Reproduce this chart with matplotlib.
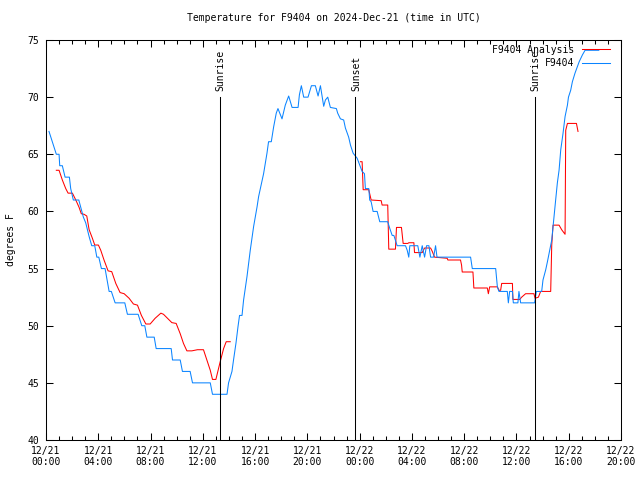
import matplotlib
matplotlib.use("Agg")
import matplotlib.pyplot as plt
import numpy as np

# hours since 2024-12-21 00:00 UTC, temperature in degrees F
obs_hours = [0.23, 0.79, 1.0, 1.05, 1.25, 1.46, 1.79, 1.89, 2.09, 2.51, 2.70, 2.86, 3.04, 3.30,
             3.50, 3.73, 3.89, 4.04, 4.24, 4.52, 4.83, 5.00, 5.29, 6.03, 6.23, 7.05, 7.33, 7.56,
             7.72, 8.28, 8.43, 9.58, 9.68, 10.27, 10.44, 11.03, 11.21, 12.57, 12.74, 13.85, 13.97,
             14.23, 14.35, 14.54, 14.69, 14.81, 15.0, 15.12, 15.38, 15.63, 15.89, 16.15, 16.27,
             16.40, 16.65, 16.91, 17.03, 17.24, 17.42, 17.62, 17.75, 18.06, 18.31, 18.57, 18.83,
             19.29, 19.39, 19.54, 19.72, 20.05, 20.31, 20.61, 20.82, 21.0, 21.25, 21.38, 21.56,
             21.76, 22.22, 22.32, 22.53, 22.78, 22.91, 23.16, 23.30, 23.50, 23.81, 24.06, 24.19,
             24.37, 24.44, 24.70, 24.77, 24.88, 25.03, 25.34, 25.54, 26.15, 26.31, 26.49, 26.62,
             26.87, 27.51, 27.64, 27.76, 27.84, 28.45, 28.61, 28.79, 28.97, 29.12, 29.30, 29.43,
             29.66, 29.81, 29.92, 32.49, 32.62, 34.41, 34.54, 34.66, 35.30, 35.38, 35.48, 35.69,
             35.76, 36.11, 36.19, 36.32, 37.39, 37.52, 37.93, 38.03, 38.24, 38.37, 38.54, 38.70,
             38.80, 39.0, 39.13, 39.26, 39.39, 39.56, 39.72, 39.90, 39.98, 40.15, 40.28, 40.48,
             40.67, 40.80, 41.05, 41.25, 42.30]
obs_temp = [67, 65, 65, 64, 64, 63, 63, 62, 61, 61, 60.2, 59.5, 59, 57.8,
            57, 57, 56, 56, 55, 55, 53, 53, 52, 52, 51, 51, 50, 50,
            49, 49, 48, 48, 47, 47, 46, 46, 45, 45, 44, 44, 45,
            46, 47, 48.5, 49.9, 50.9, 50.9, 52.25, 54.3, 56.6, 58.7, 60.4, 61.3,
            62.0, 63.3, 65.1, 66.1, 66.1, 67.4, 68.6, 69.0, 68.1, 69.3, 70.1, 69.1,
            69.1, 70.2, 71, 70, 70, 71, 71, 70.1, 71, 69.2, 69.75, 70.0,
            69.1, 69, 68.6, 68.1, 68, 67.3, 66.5, 65.8, 65.1, 64.65, 63.9, 63.5,
            63.3, 62, 62, 61, 60.85, 60, 60, 59.1, 59.1, 58.5, 57.9, 57.9,
            57, 57, 56.6, 56, 57, 57, 56, 57, 56, 57, 57, 56,
            56, 57, 56, 56, 55, 55, 53.4, 53, 53, 52, 53, 53,
            52, 52, 53, 52, 52, 53, 53, 54, 54.9, 55.6, 56.6, 57.5,
            58.7, 61, 62.5, 63.6, 65.4, 66.8, 68.3, 69.3, 70, 70.6, 71.35, 72.1,
            72.7, 73.1, 73.7, 74.1, 74.1]

ana_hours = [0.79, 1.0, 1.25, 1.51, 1.69, 2.02, 2.28, 2.53, 2.70, 2.91, 3.12, 3.30, 3.55, 3.73,
             4.01, 4.19, 4.44, 4.75, 5.03, 5.34, 5.67, 5.98, 6.36, 6.69, 7.0, 7.30, 7.64, 7.97,
             8.35, 8.79, 8.99, 9.63, 9.96, 10.27, 10.52, 10.78, 11.16, 11.59, 12.05, 12.31, 12.57,
             12.74, 13.0, 13.33, 13.59, 13.79, 14.10, 19.0,
             24.06, 24.19, 24.27, 24.70, 24.88, 25.65, 25.72, 26.15, 26.23, 26.74, 26.82, 27.20,
             27.33, 27.69, 27.76, 28.15, 28.20, 28.79, 28.97, 29.43, 29.56, 29.73, 30.70, 30.75,
             31.72, 31.80, 31.85, 32.67, 32.74, 33.77, 33.85, 33.95, 34.54, 34.66, 34.79, 34.87,
             35.69, 35.73, 36.25, 36.40, 36.70, 37.34, 37.42, 37.68, 37.85, 38.62, 38.70, 38.80,
             39.26, 39.46, 39.72, 39.77, 39.90, 40.59, 40.71]
ana_temp = [63.6, 63.6, 62.75, 62.0, 61.6, 61.6, 61.0, 60.36, 59.8, 59.75, 59.6, 58.4, 57.65, 57.06,
            57.06, 56.6, 55.75, 54.8, 54.73, 53.7, 52.9, 52.8, 52.4, 51.9, 51.8, 50.9, 50.15, 50.15,
            50.65, 51.1, 51.0, 50.27, 50.2, 49.3, 48.45, 47.8, 47.8, 47.9, 47.9, 47.0, 46.1,
            45.3, 45.3, 46.85, 48.0, 48.6, 48.6, np.nan,
            64.35, 64.35, 61.9, 61.9, 61.0, 60.94, 60.56, 60.56, 56.7, 56.7, 58.6, 58.6,
            57.2, 57.2, 57.26, 57.26, 56.4, 56.4, 56.8, 56.8, 56.5, 56.0, 55.9, 55.75,
            55.75, 55.3, 54.7, 54.7, 53.3, 53.3, 52.8, 53.4, 53.4, 53.1, 53.1, 53.7,
            53.7, 52.3, 52.3, 52.5, 52.8, 52.8, 52.4, 52.5, 53.0, 53.0, 57.06, 58.8,
            58.8, 58.4, 58.0, 67.1, 67.7, 67.7, 67.0]

sun_events = [13.33, 23.68, 37.39]
sun_labels = ["Sunrise", "Sunset", "Sunrise"]

tick_hours = [0, 4, 8, 12, 16, 20, 24, 28, 32, 36, 40, 44]
tick_labels = ["12/21\n00:00", "12/21\n04:00", "12/21\n08:00", "12/21\n12:00",
               "12/21\n16:00", "12/21\n20:00", "12/22\n00:00", "12/22\n04:00",
               "12/22\n08:00", "12/22\n12:00", "12/22\n16:00", "12/22\n20:00"]

plt.rcParams['font.family'] = ['DejaVu Sans Mono']
plt.rcParams['font.size'] = 7

fig = plt.figure(figsize=(6.4, 4.8), dpi=100)
ax = fig.add_axes([46 / 640, 40 / 480, 575 / 640, 400 / 480])

ax.plot(ana_hours, ana_temp, color='#ff0000', lw=0.75, label='F9404 Analysis')
ax.plot(obs_hours, obs_temp, color='#0a84ff', lw=0.75, label='F9404')

for h, lab in zip(sun_events, sun_labels):
    ax.plot([h, h], [40, 70], color='black', lw=0.75)
    ax.text(h + 0.05, 70.5, lab, rotation=90, ha='center', va='bottom')

ax.set_xlim(0, 44)
ax.set_ylim(40, 75)
ax.set_xticks(tick_hours)
ax.set_xticklabels(tick_labels)
ax.set_xticks(np.arange(0, 44, 1), minor=True)
ax.set_yticks(range(40, 80, 5))
ax.tick_params(which='both', direction='in', top=True, right=True, width=0.75, colors='black')
ax.tick_params(which='major', length=5, pad=4)
ax.tick_params(which='minor', length=3)
ax.tick_params(axis='y', pad=5)
for s in ax.spines.values():
    s.set_linewidth(0.75)

ax.set_ylabel('degrees F', labelpad=8)
ax.set_title('Temperature for F9404 on 2024-Dec-21 (time in UTC)', fontsize=7, pad=14)

leg = ax.legend(loc='upper right', bbox_to_anchor=(0.981, 0.988), frameon=False,
                markerfirst=False, handlelength=2.9, handletextpad=0.8, borderaxespad=0,
                borderpad=0, labelspacing=0.35, fontsize=7)

fig.savefig('out.png', dpi=100)
